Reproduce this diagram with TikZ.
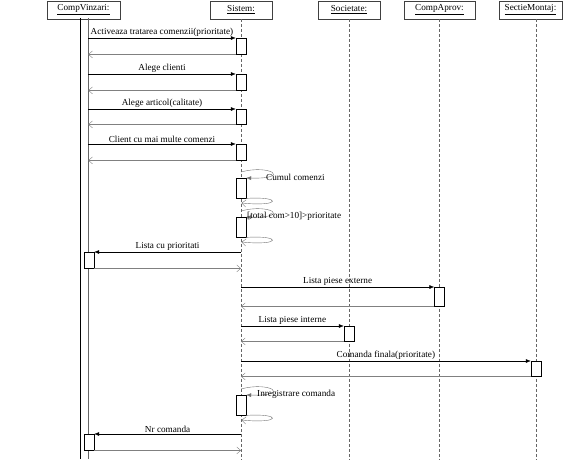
\documentclass[tikz,border=0pt]{standalone}
\usepackage{fontspec}
\setmainfont{Liberation Serif}
\usetikzlibrary{arrows.meta}

\begin{document}
\begin{tikzpicture}[x=1pt,y=-1pt,font=\fontsize{9.2}{10}\selectfont,
	obj/.style={draw=black!75, minimum height=18pt, inner sep=0pt, anchor=north},
	act/.style={draw, fill=white, minimum width=10pt, inner sep=0pt, anchor=north},
	life/.style={densely dashed, black!60, line width=0.4pt},
	call/.style={-{Latex[length=5pt,width=4pt]}, line width=0.5pt},
	ret/.style={-{Straight Barb[length=4pt,width=7pt]}, black!50, line width=0.4pt},
	selfline/.style={black!55, line width=0.4pt},
	msg/.style={above, inner sep=1.5pt}]
	\useasboundingbox (0,0) rectangle (576,459);
	\coordinate (bot) at (0,459);
	\node[obj, minimum width=73pt] (vinz) at (83.5,0.5) {\underline{CompVinzari:}};
	\node[obj, minimum width=62pt] (sist) at (241,0.5) {\underline{Sistem:}};
	\node[obj, minimum width=62pt] (soc) at (349,0.5) {\underline{Societate:}};
	\node[obj, minimum width=71pt] (aprov) at (439.5,0.5) {\underline{CompAprov:}};
	\node[obj, minimum width=63pt] (montaj) at (530.5,0.5) {\underline{SectieMontaj:}};
	\draw[life] (sist.south) -- (sist.south |- bot);
	\draw[life] (soc.south) -- (soc.south |- bot);
	\draw[life] (aprov.south) -- (aprov.south |- bot);
	\draw[life] (montaj.south) ++(5.5,0) coordinate (ml) -- (ml |- bot);
	\node[minimum width=8pt, minimum height=441pt, inner sep=0pt, anchor=north] (vbar) at (84,18) {};
	\draw (vbar.north west) -- (vbar.south west);
	\draw[black!60] (vbar.north east) -- (vbar.south east);
	
	\foreach \i/\y/\h/\t in {1/38/16/{Activeaza tratarea comenzii(prioritate)},
		2/74/16/{Alege clienti}, 3/109/15/{Alege articol(calitate)},
		4/144/16/{Client cu mai multe comenzi}}{
		\node[act, minimum height=\h pt] (a\i) at (241,\y) {};
		\draw[call] (vbar.east |- a\i.north west) -- node[msg] {\t} (a\i.north west);
		\draw[ret] (a\i.south west) -- (vbar.east |- a\i.south west);
	}
	
	\foreach \i/\y/\ly in {5/178/172, 6/217/211, 11/395/389}{
		\node[act, minimum height=20pt] (a\i) at (241,\y) {};
		\coordinate (s\i) at (241,\ly);
		\draw[selfline, -{Latex[length=5pt,width=4pt]}] (s\i) .. controls (270,\ly-8) and (292,\ly+7) .. (a\i.north east);
		\draw[ret, black!55] (a\i.south east) .. controls (282,\y+18) and (282,\y+29) .. (241.5,\y+25);
	}
	\node[anchor=west, inner sep=1pt] (l5) at (265,177) {Cumul comenzi};
	\node[anchor=west, inner sep=1pt] (l6) at (246,216) {[total com>10]>prioritate};
	\node[anchor=west, inner sep=1pt] (l11) at (256,394) {Inregistrare comanda};
	
	\node[act, minimum height=16pt] (b7) at (89,252) {};
	\draw[call] (sist.south |- b7.north east) -- node[msg] {Lista cu prioritati} (b7.north east);
	\draw[ret] (b7.south east) -- (sist.south |- b7.south east);
	
	\node[act, minimum height=19pt] (b8) at (439.5,287) {};
	\draw[call] (sist.south |- b8.north west) -- node[msg] {Lista piese externe} (b8.north west);
	\draw[ret] (b8.south west) -- (sist.south |- b8.south west);
	
	\node[act, minimum height=15pt] (b9) at (349,326) {};
	\draw[call] (sist.south |- b9.north west) -- node[msg] {Lista piese interne} (b9.north west);
	\draw[ret] (b9.south west) -- (sist.south |- b9.south west);
	
	\node[act, minimum height=15pt] (b10) at (536,361) {};
	\draw[call] (sist.south |- b10.north west) -- node[msg] {Comanda finala(prioritate)} (b10.north west);
	\draw[ret] (b10.south west) -- (sist.south |- b10.south west);
	
	\node[act, minimum height=16pt] (b12) at (89,434) {};
	\draw[call] (sist.south |- b12.north east) -- node[msg] {Nr comanda} (b12.north east);
	\draw[ret] (b12.south east) -- (sist.south |- b12.south east);
\end{tikzpicture}
\end{document}
